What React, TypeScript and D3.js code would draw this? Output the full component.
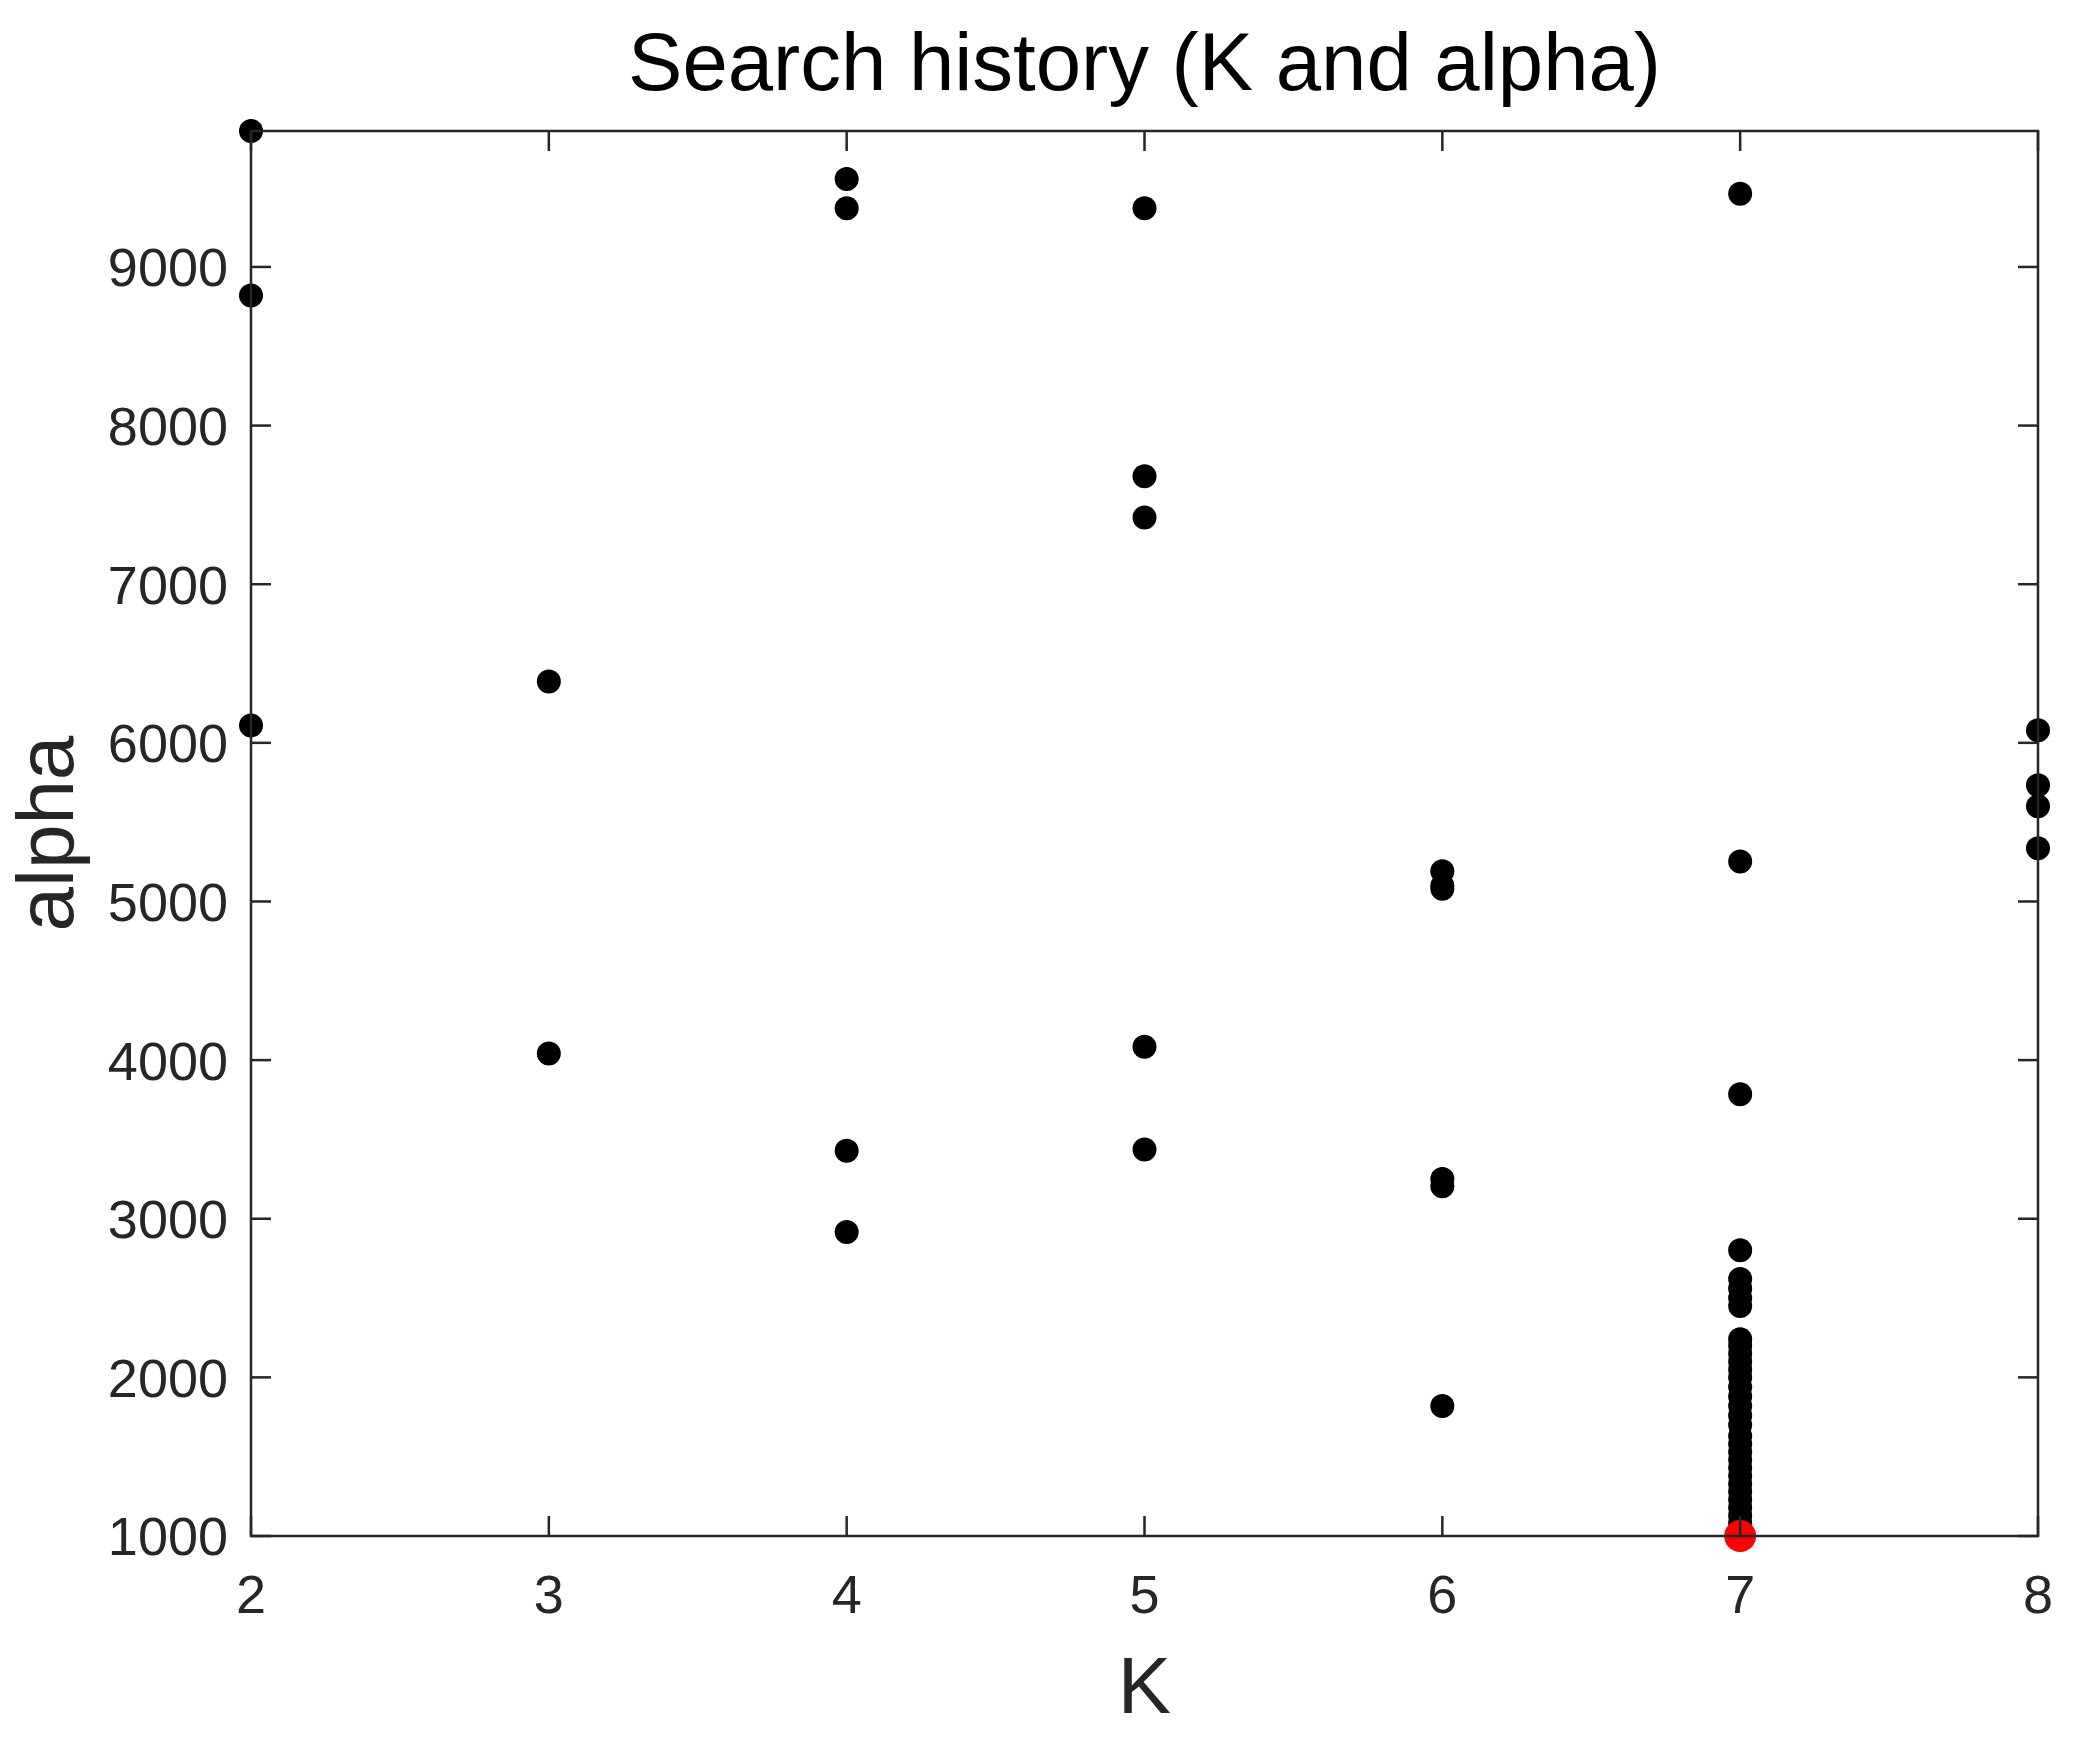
import React from "react";
import * as d3 from "d3";

const W = 2091;
const H = 1750;

const kTicks = [2, 3, 4, 5, 6, 7, 8];
const alphaTicks = [1000, 2000, 3000, 4000, 5000, 6000, 7000, 8000, 9000];

// Search history points (K, alpha)
const pointsK2 = [9857, 8820, 6110];
const pointsK3 = [6387, 4042];
const pointsK4 = [9555, 9370, 3429, 2916];
const pointsK5 = [9370, 7681, 7420, 4084, 3437];
const pointsK6 = [5190, 5100, 5080, 3250, 3205, 1820];
const pointsK7 = [
  9462, 5252, 3785, 2802, 2620, 2560, 2500, 2450, 2240, 2200, 2150, 2100, 2050,
  2000, 1940, 1880, 1820, 1760, 1700, 1630, 1580, 1530, 1480, 1430, 1380, 1330,
  1280, 1230, 1180, 1130, 1080, 1030,
];
const pointsK8 = [6079, 5732, 5600, 5335];
const bestPoint = { k: 7, alpha: 1000 };

const groups: [number, number[]][] = [
  [2, pointsK2],
  [3, pointsK3],
  [4, pointsK4],
  [5, pointsK5],
  [6, pointsK6],
  [7, pointsK7],
  [8, pointsK8],
];

const M = { left: 251, right: 2038, top: 131, bottom: 1536 };
const axisColor = "#262626";
const font = "'Liberation Sans', Arial, Helvetica, sans-serif";

export default function App() {
  const x = d3.scaleLinear().domain([2, 8]).range([M.left, M.right]);
  const y = d3.scaleLinear().domain([1000, 9857]).range([M.bottom, M.top]);
  const tickLen = 20;

  const pts: { k: number; a: number }[] = [];
  groups.forEach(([k, vals]) => vals.forEach((a) => pts.push({ k, a })));

  return (
    <svg
      width={W}
      height={H}
      style={{ position: "absolute", left: 0, top: 0, background: "#fff" }}
      fontFamily={font}
    >
      <rect x={0} y={0} width={W} height={H} fill="#fff" />
      {pts.map((p, i) => (
        <circle key={i} cx={x(p.k)} cy={y(p.a)} r={12} fill="#000" />
      ))}
      <circle cx={x(bestPoint.k)} cy={y(bestPoint.alpha)} r={16} fill="#ff0000" />

      <rect
        x={M.left}
        y={M.top}
        width={M.right - M.left}
        height={M.bottom - M.top}
        fill="none"
        stroke={axisColor}
        strokeWidth={2.5}
      />
      {kTicks.map((t) => (
        <g key={"xt" + t}>
          <line x1={x(t)} x2={x(t)} y1={M.bottom} y2={M.bottom - tickLen} stroke={axisColor} strokeWidth={2.5} />
          <line x1={x(t)} x2={x(t)} y1={M.top} y2={M.top + tickLen} stroke={axisColor} strokeWidth={2.5} />
          <text x={x(t)} y={M.bottom + 77} textAnchor="middle" fontSize={54} fill={axisColor}>
            {t}
          </text>
        </g>
      ))}
      {alphaTicks.map((t) => (
        <g key={"yt" + t}>
          <line x1={M.left} x2={M.left + tickLen} y1={y(t)} y2={y(t)} stroke={axisColor} strokeWidth={2.5} />
          <line x1={M.right} x2={M.right - tickLen} y1={y(t)} y2={y(t)} stroke={axisColor} strokeWidth={2.5} />
          <text x={M.left - 23} y={y(t)} dy="0.36em" textAnchor="end" fontSize={54} fill={axisColor}>
            {t}
          </text>
        </g>
      ))}
      <text x={(M.left + M.right) / 2} y={90} textAnchor="middle" fontSize={81.5} fill="#000">
        Search history (K and alpha)
      </text>
      <text x={(M.left + M.right) / 2} y={1713} textAnchor="middle" fontSize={80} fill={axisColor}>
        K
      </text>
      <text
        transform={`translate(73, ${(M.top + M.bottom) / 2}) rotate(-90)`}
        textAnchor="middle"
        fontSize={80}
        fill={axisColor}
      >
        alpha
      </text>
    </svg>
  );
}
